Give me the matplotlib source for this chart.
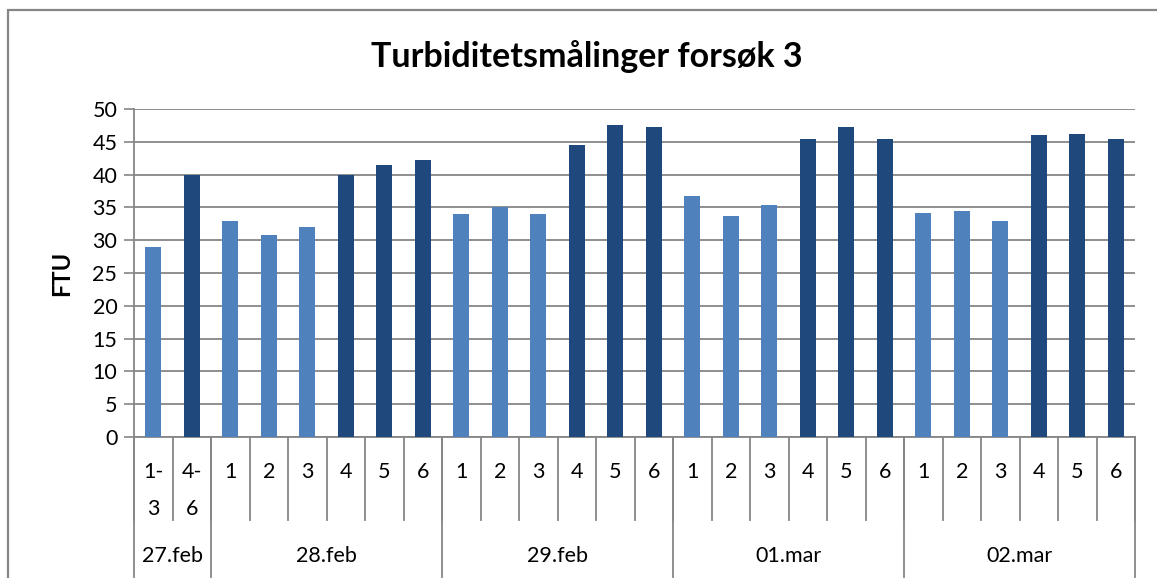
import matplotlib
matplotlib.use("Agg")
from matplotlib import pyplot as plt
from matplotlib.patches import Rectangle

# data
days = ["27.feb", "28.feb", "29.feb", "01.mar", "02.mar"]
samples = [
    ["1-\n3", "4-\n6"],
    ["1", "2", "3", "4", "5", "6"],
    ["1", "2", "3", "4", "5", "6"],
    ["1", "2", "3", "4", "5", "6"],
    ["1", "2", "3", "4", "5", "6"],
]
ftu = [
    [29.0, 40.0],
    [33.0, 30.8, 32.0, 40.0, 41.5, 42.2],
    [34.0, 35.0, 34.0, 44.5, 47.5, 47.2],
    [36.8, 33.7, 35.4, 45.4, 47.2, 45.4],
    [34.1, 34.5, 32.9, 46.0, 46.2, 45.4],
]
# which bars are the dark ones (samples 4-6)
dark = [
    [False, True],
    [False, False, False, True, True, True],
    [False, False, False, True, True, True],
    [False, False, False, True, True, True],
    [False, False, False, True, True, True],
]

LIGHT = "#4F81BD"
DARK = "#1F497D"
GRID = "#868686"

plt.rcParams["font.family"] = ["Lato", "DejaVu Sans"]

fig = plt.figure(figsize=(11.57, 5.78), dpi=100)
ax = fig.add_axes([134 / 1157, 141 / 578, 1001 / 1157, 328 / 578])

# outer chart border
fig.patches.append(Rectangle((8 / 1157, -0.1), 1.2, (578 - 10) / 578 + 0.1,
                             transform=fig.transFigure, fill=False,
                             edgecolor=GRID, linewidth=1.6))

x = 0
labels = []
positions = []
group_edges = [-0.5]
for d in range(len(days)):
    for s in range(len(samples[d])):
        color = DARK if dark[d][s] else LIGHT
        ax.bar(x, ftu[d][s], width=0.42, color=color, zorder=3)
        labels.append(samples[d][s])
        positions.append(x)
        x += 1
    group_edges.append(x - 0.5)

n = x
ax.set_xlim(-0.5, n - 0.5)
ax.set_ylim(0, 50)
ax.set_yticks(range(0, 51, 5))
ax.yaxis.grid(True, color=GRID, linewidth=1.3, zorder=0)
ax.tick_params(axis="y", length=7, width=1.2, color=GRID, labelsize=15.5, pad=5)
ax.set_xticks([])

for side in ["top", "right"]:
    ax.spines[side].set_visible(False)
ax.spines["left"].set_color(GRID)
ax.spines["bottom"].set_color(GRID)
ax.spines["left"].set_linewidth(1.3)
ax.spines["bottom"].set_linewidth(1.3)

trans = ax.get_xaxis_transform()
px = 1 / 328  # one pixel in axes height units

# inner separators
for i in range(n + 1):
    ax.plot([i - 0.5, i - 0.5], [0, -83 * px], transform=trans, color=GRID,
            linewidth=1.3, clip_on=False)
# group separators
for e in group_edges:
    ax.plot([e, e], [0, -140 * px], transform=trans, color=GRID,
            linewidth=1.3, clip_on=False)

for p, lab in zip(positions, labels):
    ax.text(p, -25 * px, lab, transform=trans, ha="center", va="top",
            fontsize=15.5, linespacing=2.05)

for d in range(len(days)):
    mid = (group_edges[d] + group_edges[d + 1]) / 2
    ax.text(mid, -119 * px, days[d], transform=trans, ha="center",
            va="center", fontsize=15.5)

ax.set_ylabel("FTU", fontsize=17, fontweight="bold", labelpad=14)
fig.text(0.507, 1 - 57 / 578, "Turbiditetsmålinger forsøk 3", ha="center",
         va="center", fontsize=24.5, fontweight="bold")

fig.savefig("out.png", dpi=100)
